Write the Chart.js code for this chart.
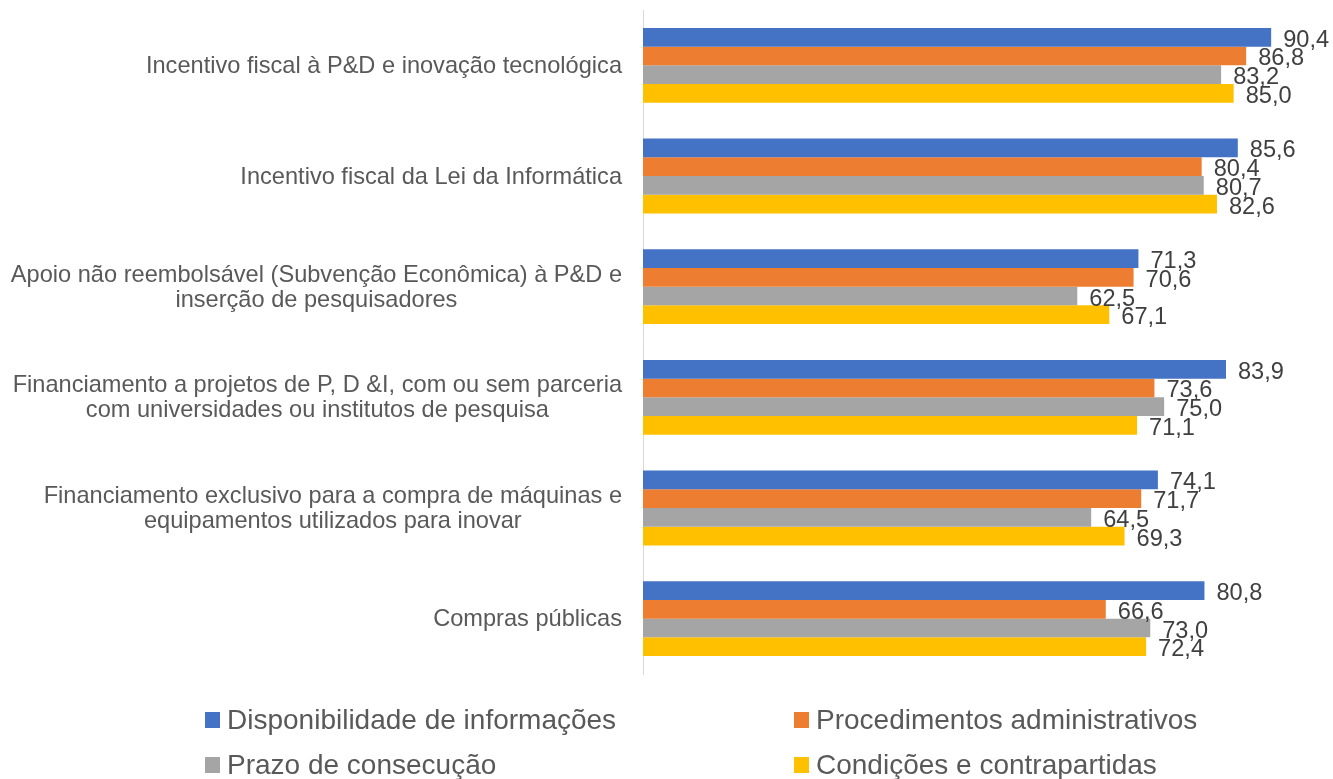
<!DOCTYPE html>
<html>
<head>
<meta charset="utf-8">
<script src="https://cdn.jsdelivr.net/npm/chart.js@4.4.1/dist/chart.umd.min.js"></script>
<style>
  html, body { margin: 0; padding: 0; background: #fff; }
  #wrap { width: 1333px; height: 779px; }
</style>
</head>
<body>
<div id="wrap"><canvas id="barras" width="1333" height="779"></canvas></div>
<script>
// Categorias (eixo vertical) e séries
const categorias = [
    ['Incentivo fiscal à P&D e inovação tecnológica'],
    ['Incentivo fiscal da Lei da Informática'],
    ['Apoio não reembolsável (Subvenção Econômica) à P&D e', 'inserção de pesquisadores'],
    ['Financiamento a projetos de P, D &I, com ou sem parceria', 'com universidades ou institutos de pesquisa'],
    ['Financiamento exclusivo para a compra de máquinas e', 'equipamentos utilizados para inovar'],
    ['Compras públicas']
];
const disponibilidade = [90.4, 85.6, 71.3, 83.9, 74.1, 80.8];
const procedimentos = [86.8, 80.4, 70.6, 73.6, 71.7, 66.6];
const prazo = [83.2, 80.7, 62.5, 75.0, 64.5, 73.0];
const condicoes = [85.0, 82.6, 67.1, 71.1, 69.3, 72.4];

const nomesSeries = ['Disponibilidade de informações', 'Procedimentos administrativos', 'Prazo de consecução', 'Condições e contrapartidas'];
const cores = ['#4472C4', '#ED7D31', '#A5A5A5', '#FFC000'];

const fonte = '"Liberation Sans", Arial, sans-serif';

// rótulos das categorias: bloco alinhado à direita, linhas centradas entre si
const rotulosCategorias = {
    id: 'rotulosCategorias',
    afterDraw(chart) {
        const ctx = chart.ctx;
        const y = chart.scales.y;
        const direita = 622;
        ctx.save();
        ctx.font = '23.6px ' + fonte;
        ctx.fillStyle = '#595959';
        ctx.textAlign = 'center';
        ctx.textBaseline = 'middle';
        categorias.forEach((linhas, i) => {
            const larg = Math.max(...linhas.map(l => ctx.measureText(l).width));
            const cx = direita - larg / 2;
            const cy = y.getPixelForTick(i) + 1;
            const alt = 25;
            linhas.forEach((l, j) => {
                ctx.fillText(l, cx, cy + (j - (linhas.length - 1) / 2) * alt);
            });
        });
        ctx.restore();
    }
};

// valores no fim das barras, com vírgula decimal
const rotulosValores = {
    id: 'rotulosValores',
    afterDatasetsDraw(chart) {
        const ctx = chart.ctx;
        ctx.save();
        ctx.font = '23.6px ' + fonte;
        ctx.fillStyle = '#404040';
        ctx.textAlign = 'left';
        ctx.textBaseline = 'middle';
        chart.data.datasets.forEach((ds, d) => {
            chart.getDatasetMeta(d).data.forEach((bar, i) => {
                const txt = ds.data[i].toFixed(1).replace('.', ',');
                ctx.fillText(txt, bar.x + 12, bar.y + 3);
            });
        });
        ctx.restore();
    }
};

// legenda em duas colunas embaixo do gráfico
const legendaGrade = {
    id: 'legendaGrade',
    afterDraw(chart) {
        const ctx = chart.ctx;
        const colunas = [205, 794];
        const linhas = [720, 765];
        ctx.save();
        ctx.font = '28px ' + fonte;
        ctx.textBaseline = 'middle';
        ctx.textAlign = 'left';
        chart.data.datasets.forEach((ds, i) => {
            const x = colunas[i % 2];
            const y = linhas[Math.floor(i / 2)];
            ctx.fillStyle = ds.backgroundColor;
            ctx.fillRect(x, y - 8, 15, 16);
            ctx.fillStyle = '#595959';
            ctx.fillText(ds.label, x + 22, y + 1);
        });
        ctx.restore();
    }
};

const series = [disponibilidade, procedimentos, prazo, condicoes];

new Chart(document.getElementById('barras'), {
    type: 'bar',
    data: {
        labels: categorias.map(c => c.join(' ')),
        datasets: series.map((dados, i) => ({
            label: nomesSeries[i],
            data: dados,
            backgroundColor: cores[i],
            borderWidth: 0,
            categoryPercentage: 0.676,
            barPercentage: 1
        }))
    },
    options: {
        indexAxis: 'y',
        responsive: false,
        animation: false,
        layout: { padding: { top: 10, bottom: 105, left: 0, right: 0 } },
        plugins: {
            legend: { display: false },
            tooltip: { enabled: false }
        },
        scales: {
            x: {
                display: false,
                min: 0,
                max: 99.3
            },
            y: {
                grid: { display: false },
                border: { display: true, color: '#D9D9D9', width: 1 },
                ticks: { display: false },
                afterFit(scale) { scale.width = 643; }
            }
        }
    },
    plugins: [rotulosCategorias, rotulosValores, legendaGrade]
});
</script>
</body>
</html>
